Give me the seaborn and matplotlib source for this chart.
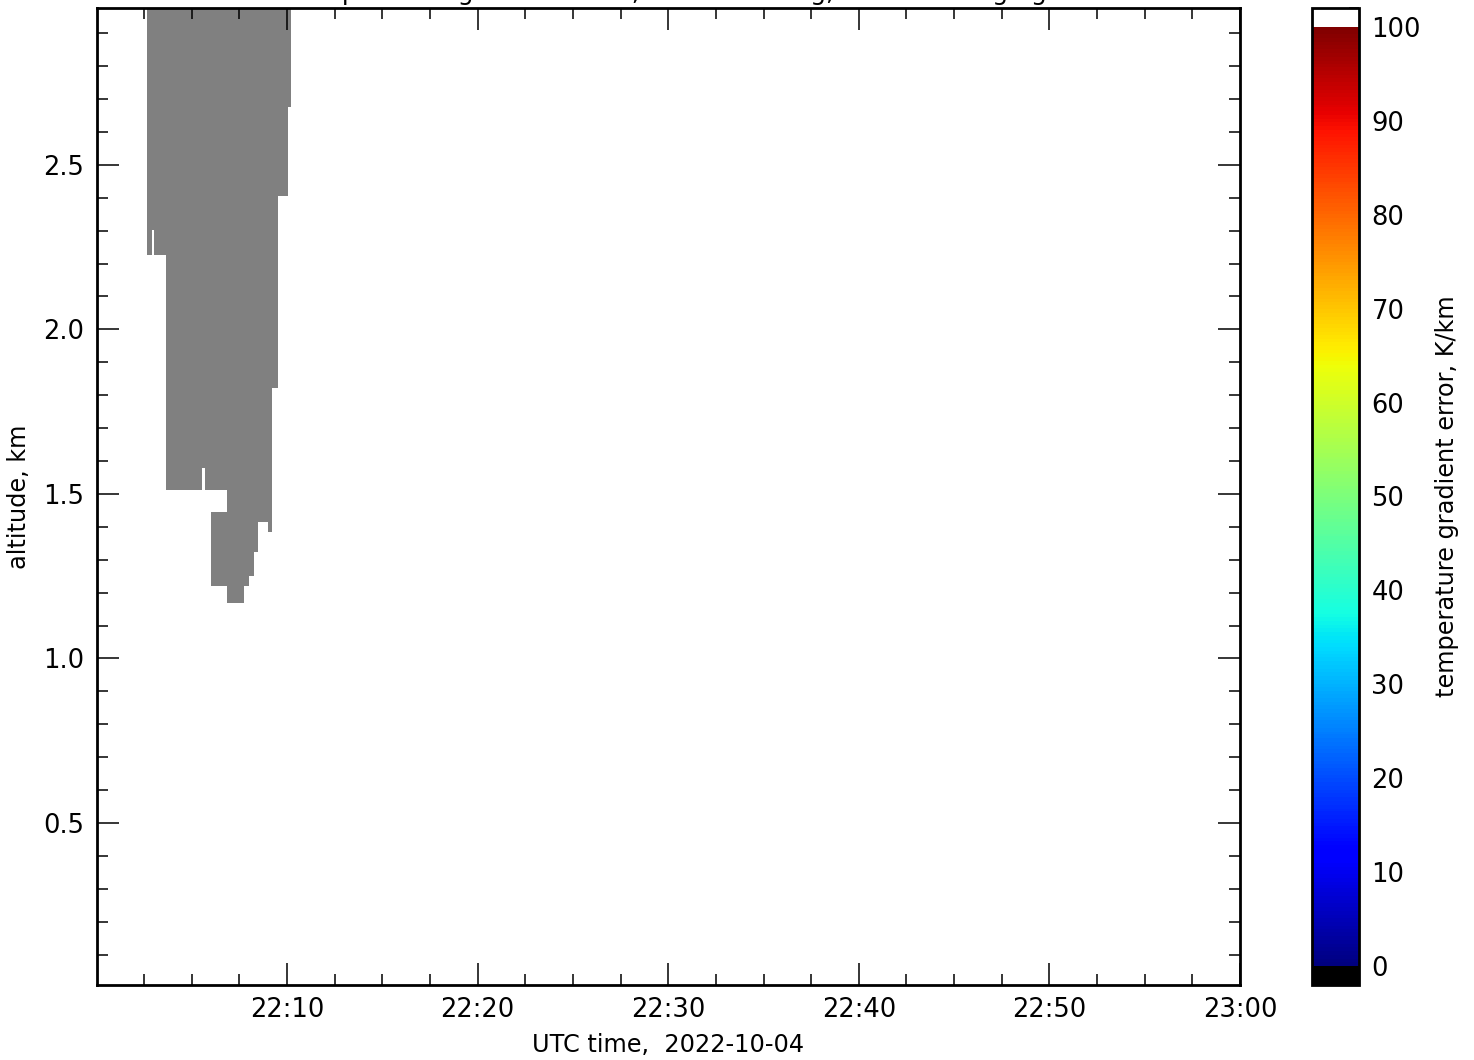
import numpy as np
import pandas as pd
import matplotlib
matplotlib.use("Agg")
import matplotlib.pyplot as plt
import matplotlib.dates as mdates
from matplotlib.colors import ListedColormap, Normalize
from matplotlib.ticker import MultipleLocator
import seaborn as sns

# masked (gray) blocks: minutes after 22:00 UTC and altitude range in km
mask_t0 = [2.65, 2.69, 2.94, 3.05, 3.66, 5.56, 5.72, 6.02, 6.86, 7.77, 8.03, 8.29, 8.47, 8.98, 9.22, 9.50, 10.04]
mask_t1 = [2.73, 2.94, 3.05, 3.66, 5.56, 5.72, 6.86, 6.86, 7.77, 8.03, 8.29, 8.47, 8.98, 9.22, 9.50, 10.04, 10.22]
mask_z0 = [2.576, 2.220, 2.302, 2.220, 1.512, 1.579, 1.512, 1.217, 1.169, 1.217, 1.248, 1.321, 1.412, 1.381, 1.816, 2.403, 2.673]
mask_z1 = [2.676, 3.0, 3.0, 3.0, 3.0, 3.0, 3.0, 1.442, 3.0, 3.0, 3.0, 3.0, 3.0, 3.0, 3.0, 3.0, 3.0]

start_time = "2022-10-04 22:00"
end_time = "2022-10-04 23:00"
cbar_ticks = [0, 10, 20, 30, 40, 50, 60, 70, 80, 90, 100]
title = "Temperature gradient error, lidar sounding, 1 min averaging"

sns.set_style("ticks", {"axes.edgecolor": "black", "text.color": "black",
                        "axes.labelcolor": "black", "xtick.color": "black",
                        "ytick.color": "black"})
plt.rcParams['font.family'] = ['DejaVu Sans']

# grid of profiles (time x altitude)
t_min = np.arange(0, 60, 0.02) + 0.01
z_km = np.arange(0.0075, 2.985, 0.0075)
mask = np.zeros((len(z_km), len(t_min)))
for t0, t1, z0, z1 in zip(mask_t0, mask_t1, mask_z0, mask_z1):
    rows = (z_km >= z0) & (z_km < z1)
    cols = (t_min >= t0) & (t_min < t1)
    mask[np.ix_(rows, cols)] = 1
grad_err = np.full(mask.shape, np.nan)   # no valid retrievals in this window

# jet with black below 0 and white above 100
vmin, vmax = -2, 102
cv = np.linspace(vmin, vmax, 1041)
colors = plt.cm.jet(np.clip(cv / 100, 0, 1))
colors[cv < 0] = (0, 0, 0, 1)
colors[cv > 100] = (1, 1, 1, 1)
err_cmap = ListedColormap(colors)

t_start = pd.Timestamp(start_time)
t_end = pd.Timestamp(end_time)
x0 = mdates.date2num(t_start)
x1 = mdates.date2num(t_end)
extent = [x0, x1, z_km[0] - 0.00375, z_km[-1] + 0.00375]

fig = plt.figure(figsize=(14.74, 10.6), dpi=100)
ax = fig.add_axes([0.0658, 0.0708, 0.7755, 0.9217])

im = ax.imshow(grad_err, extent=extent, origin='lower', aspect='auto',
               cmap=err_cmap, norm=Normalize(vmin, vmax), interpolation='nearest')
ax.imshow(np.ma.masked_where(mask == 0, mask), extent=extent, origin='lower', aspect='auto',
          cmap=ListedColormap(['#808080']), interpolation='nearest')

ax.set_xlim(x0 + 2 / 86400, x1)
ax.set_ylim(0.0075, 2.977)
ax.xaxis.set_major_locator(mdates.MinuteLocator(byminute=range(0, 60, 10)))
ax.xaxis.set_major_formatter(mdates.DateFormatter('%H:%M'))
ax.xaxis.set_minor_locator(MultipleLocator(2.5 / 1440))
ax.yaxis.set_major_locator(MultipleLocator(0.5))
ax.yaxis.set_minor_locator(MultipleLocator(0.1))
ax.tick_params(which='both', direction='in', top=True, right=True, labelsize=18.5, width=1.1)
ax.tick_params(which='major', length=16, pad=9)
ax.tick_params(which='minor', length=8)
for sp in ax.spines.values():
    sp.set_linewidth(2)
ax.set_xlabel('UTC time,  2022-10-04', fontsize=17.3, labelpad=7)
ax.set_ylabel('altitude, km', fontsize=17.3, labelpad=9)
ax.set_title(title, fontsize=18)

cax = fig.add_axes([0.890, 0.0708, 0.0319, 0.9217])
cb = fig.colorbar(im, cax=cax, ticks=cbar_ticks)
cb.outline.set_linewidth(2)
cb.outline.set_edgecolor('black')
cax.yaxis.set_minor_locator(MultipleLocator(2))
cax.tick_params(which='both', direction='in', left=False, right=True, labelsize=18.5, width=1.1)
cax.tick_params(which='major', length=15, pad=9)
cax.tick_params(which='minor', length=7)
cb.set_label('temperature gradient error, K/km', fontsize=17.3, labelpad=10)

fig.savefig('out.png', dpi=100)
